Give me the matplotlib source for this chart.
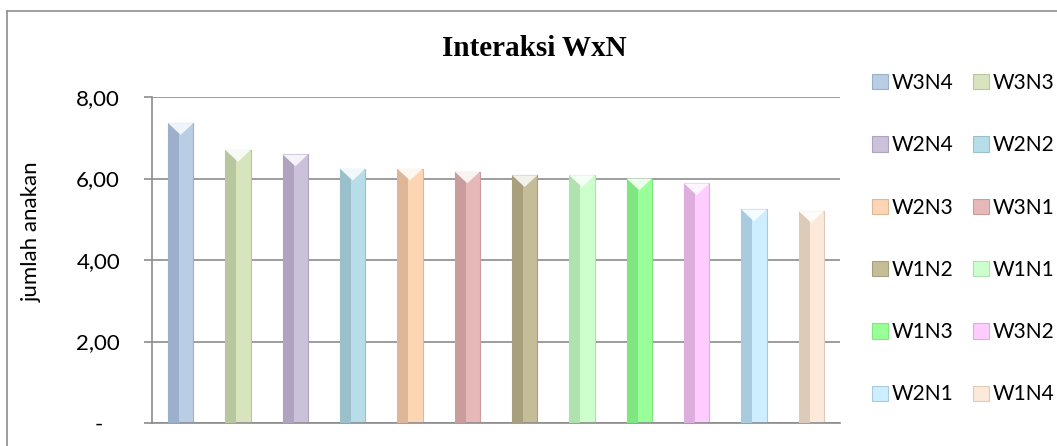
import matplotlib
matplotlib.use("Agg")
import matplotlib.pyplot as plt
from matplotlib.patches import Patch, Polygon
from matplotlib.lines import Line2D
from matplotlib.colors import to_rgb
import numpy as np

# data
labels = ["W3N4", "W3N3", "W2N4", "W2N2", "W2N3", "W3N1",
          "W1N2", "W1N1", "W1N3", "W3N2", "W2N1", "W1N4"]
values = [7.36, 6.70, 6.59, 6.24, 6.24, 6.17, 6.08, 6.08, 6.00, 5.88, 5.24, 5.20]
yticks = [0, 2, 4, 6, 8]
ytick_labels = ["-   ", "2,00", "4,00", "6,00", "8,00"]

# colours: light face / darker left facet
face = ["#b9cde5", "#d7e4bd", "#ccc1da", "#b7dee8", "#fcd5b5", "#e6b9b8",
        "#c4bd97", "#ccffcc", "#99ff99", "#ffccff", "#cceeff", "#fde9d9"]
shade = ["#9cb0cb", "#b9c79f", "#afa3bf", "#99c0cb", "#deb799", "#c99d9c",
         "#a8a07d", "#b0e2b0", "#80e680", "#ddaedd", "#a9cbdf", "#ddcbba"]

W, H = 1057, 446
fig = plt.figure(figsize=(W / 100, H / 100), dpi=100)
ax = fig.add_axes([152 / W, 23 / H, 688 / W, 326 / H])

x = np.arange(len(values))
bw = 0.44
grid_c = "#8c8c8c"

ax.set_axisbelow(True)
ax.yaxis.grid(True, color=grid_c, linewidth=1.2)
ax.bar(x, values, width=bw, color=face, edgecolor=shade, linewidth=0.8, zorder=2)
ax.bar(x - bw * 0.28, values, width=bw * 0.44, color=shade, linewidth=0, zorder=3)

# bevel top: pale triangle
depth = 0.29
for xi, v, c in zip(x, values, face):
    rgb = np.array(to_rgb(c))
    tri = Polygon([[xi - bw / 2, v], [xi + bw / 2, v], [xi, v - depth]],
                  closed=True, facecolor=rgb * 0.2 + 0.8, edgecolor="none", zorder=4)
    ax.add_patch(tri)

ax.set_xlim(-0.5, len(values) - 0.5)
ax.set_ylim(0, 8)
ax.set_xticks([])
ax.set_yticks(yticks)
ax.set_yticklabels(ytick_labels, fontsize=16, family="Lato")
ax.tick_params(axis="y", length=6, width=1.2, color=grid_c, pad=17)
for s in ["top", "right"]:
    ax.spines[s].set_visible(False)
ax.spines["left"].set_color(grid_c)
ax.spines["left"].set_linewidth(1.2)
ax.spines["bottom"].set_color(grid_c)
ax.spines["bottom"].set_linewidth(1.2)

fig.text(534 / W, 1 - 48 / H, "Interaksi WxN", ha="center", va="center",
         fontsize=21, fontweight="bold", family="Liberation Serif")
fig.text(32 / W, 1 - 232 / H, "jumlah anakan", rotation=90, ha="center",
         va="center", fontsize=16, family="Lato")

# legend, row-major order like the original
order = list(range(0, 12, 2)) + list(range(1, 12, 2))
handles = [Patch(facecolor=face[i], edgecolor=shade[i], linewidth=0.8) for i in order]
fig.legend(handles, [labels[i] for i in order], ncol=2, loc="upper left",
           bbox_to_anchor=(872 / W, 1 - 73 / H), frameon=False,
           prop={"family": "Lato", "size": 15}, handlelength=0.75,
           handleheight=0.75, handletextpad=0.2, columnspacing=0.95,
           labelspacing=2.03, borderpad=0, borderaxespad=0)

# outer chart border (top and left only visible)
fig.add_artist(Line2D([7 / W, 7 / W], [1 - 11 / H, 0], color="#8c8c8c", linewidth=1.2))
fig.add_artist(Line2D([7 / W, 1], [1 - 11 / H, 1 - 11 / H], color="#8c8c8c", linewidth=1.2))

fig.savefig("out.png", dpi=100)
